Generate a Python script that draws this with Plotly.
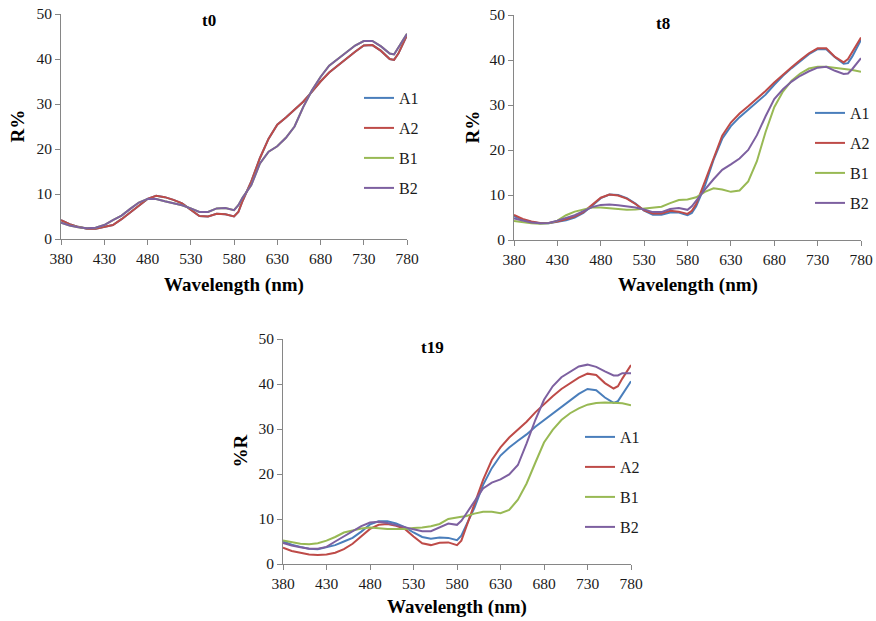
import plotly.graph_objects as go

# ---------------- data ----------------
wavelength = [380, 390, 400, 410, 420, 430, 440, 450, 460, 470, 480, 490, 500, 510, 520,
              530, 540, 550, 560, 570, 580, 585, 590, 600, 610, 620, 630, 640, 650, 660,
              670, 680, 690, 700, 710, 720, 730, 740, 750, 760, 765, 770, 780]
x_ticks = [380, 430, 480, 530, 580, 630, 680, 730, 780]
y_ticks = [0, 10, 20, 30, 40, 50]
series_names = ["A1", "A2", "B1", "B2"]

# t0 (A1 lies under A2, B1 lies under B2)
t0_A2 = [4.2, 3.3, 2.7, 2.3, 2.3, 2.7, 3.1, 4.4, 5.8, 7.4, 8.9, 9.6, 9.3, 8.7, 7.9,
         6.4, 5.1, 5.0, 5.6, 5.5, 5.0, 6.0, 8.5, 12.8, 18.0, 22.3, 25.4, 27.0, 28.8, 30.5,
         32.7, 35.0, 37.0, 38.6, 40.1, 41.6, 43.0, 43.1, 41.8, 40.0, 39.8, 41.2, 45.3]
t0_A1 = list(t0_A2)
t0_B2 = [3.6, 3.0, 2.6, 2.4, 2.5, 3.1, 4.2, 5.2, 6.7, 8.1, 8.9, 8.9, 8.4, 7.9, 7.5,
         6.8, 6.0, 6.0, 6.8, 6.9, 6.4, 7.5, 9.2, 12.0, 16.8, 19.4, 20.6, 22.5, 25.0, 29.3,
         33.0, 36.0, 38.5, 40.0, 41.4, 43.0, 44.0, 44.0, 42.8, 41.2, 41.0, 42.5, 45.6]
t0_B1 = list(t0_B2)

# t8
t8_A1 = [5.3, 4.5, 4.0, 3.7, 3.7, 4.0, 4.4, 5.0, 6.0, 7.6, 9.3, 10.1, 10.0, 9.3, 8.1,
         6.5, 5.6, 5.6, 6.1, 6.1, 5.5, 6.0, 7.5, 12.0, 17.8, 22.5, 25.3, 27.3, 29.0, 30.5,
         32.3, 34.5, 36.5, 38.2, 39.8, 41.3, 42.4, 42.4, 40.6, 39.2, 39.3, 40.8, 44.5]
t8_A2 = [5.6, 4.7, 4.1, 3.8, 3.8, 4.1, 4.6, 5.2, 6.2, 7.8, 9.4, 10.1, 9.9, 9.2, 8.0,
         6.6, 5.9, 5.9, 6.5, 6.3, 5.8, 6.5, 8.0, 13.0, 18.2, 23.2, 26.1, 28.1, 29.7, 31.3,
         33.1, 35.0, 36.8, 38.4, 40.0, 41.5, 42.6, 42.6, 40.7, 39.5, 40.2, 41.8, 45.0]
t8_B1 = [4.2, 3.9, 3.7, 3.6, 3.7, 4.3, 5.5, 6.3, 6.8, 7.2, 7.2, 7.0, 6.8, 6.7, 6.8,
         7.0, 7.1, 7.4, 8.2, 8.9, 9.0, 9.2, 9.5, 10.7, 11.5, 11.2, 10.7, 11.0, 13.0, 17.5,
         24.0, 29.5, 33.0, 35.4, 37.0, 38.1, 38.5, 38.5, 38.3, 38.0, 37.9, 37.8, 37.4]
t8_B2 = [4.8, 4.3, 3.9, 3.7, 3.8, 4.3, 4.9, 5.5, 6.4, 7.3, 7.8, 7.9, 7.7, 7.5, 7.2,
         6.8, 6.2, 6.2, 6.9, 7.1, 6.7, 7.5, 8.8, 11.2, 13.5, 15.6, 16.8, 18.1, 20.0, 23.3,
         27.5, 31.3, 33.5, 35.2, 36.5, 37.5, 38.3, 38.5, 37.6, 36.9, 37.0, 38.0, 40.4]

# t19
t19_A1 = [5.0, 4.3, 3.8, 3.4, 3.3, 3.7, 4.2, 5.0, 5.8, 7.2, 8.8, 9.5, 9.5, 9.0, 8.2,
          7.0, 6.0, 5.6, 5.9, 5.8, 5.3, 6.3, 8.5, 12.5, 17.6, 21.3, 24.1, 25.9, 27.4, 28.8,
          30.5, 32.0, 33.5, 34.9, 36.4, 37.8, 38.9, 38.6, 37.0, 35.8, 36.2, 37.6, 40.6]
t19_A2 = [3.6, 2.9, 2.5, 2.1, 2.0, 2.1, 2.5, 3.3, 4.5, 6.1, 7.8, 8.7, 8.9, 8.5, 7.8,
          6.1, 4.6, 4.2, 4.7, 4.8, 4.2, 5.2, 8.0, 13.5, 18.7, 23.1, 25.9, 28.1, 29.8, 31.6,
          33.7, 35.6, 37.3, 38.9, 40.1, 41.4, 42.3, 42.0, 40.2, 39.0, 39.5, 41.2, 44.2]
t19_B1 = [5.2, 4.8, 4.5, 4.4, 4.6, 5.2, 6.0, 7.0, 7.5, 7.9, 8.1, 7.9, 7.8, 7.8, 7.8,
          8.0, 8.1, 8.4, 8.9, 10.0, 10.4, 10.5, 10.6, 11.2, 11.6, 11.6, 11.3, 12.0, 14.3, 17.9,
          22.5, 27.0, 29.8, 32.0, 33.5, 34.6, 35.4, 35.8, 35.9, 35.9, 35.8, 35.7, 35.3]
t19_B2 = [4.7, 4.1, 3.7, 3.4, 3.4, 3.8, 5.0, 6.1, 7.2, 8.4, 9.2, 9.4, 9.1, 8.7, 8.2,
          7.7, 7.3, 7.3, 8.2, 9.0, 8.7, 9.6, 11.0, 14.0, 16.8, 18.1, 18.8, 19.9, 22.0, 26.8,
          32.0, 36.5, 39.5, 41.5, 42.8, 43.9, 44.3, 43.8, 42.8, 41.9, 41.9, 42.4, 42.4]

panels = [
    ("t0", "R%", [t0_A1, t0_A2, t0_B1, t0_B2]),
    ("t8", "R%", [t8_A1, t8_A2, t8_B1, t8_B2]),
    ("t19", "%R", [t19_A1, t19_A2, t19_B1, t19_B2]),
]

# ---------------- style ----------------
colors = ["#4A7EBB", "#BE4B48", "#98B954", "#7D60A0"]
FONT = "Liberation Serif, Times New Roman, serif"
W, H = 876, 621
AXIS_GREY = "#868686"

# plot areas in pixels: (left, right, top, bottom)
areas = [(61, 407, 14, 239), (514, 861, 15, 240), (283, 631, 339, 564)]
legend_pos = [(359, 81), (810, 96), (580, 420)]
xtitle_shift = [-46, -45, -43]
ytitle_shift = [-44, -42, -43]
title_pos = [(0.428, 0.969), (0.43, 0.964), (0.431, 0.964)]

fig = go.Figure()
legend_ids = ["legend", "legend2", "legend3"]
annotations = []
layout = dict(
    width=W, height=H,
    margin=dict(l=0, r=0, t=0, b=0, autoexpand=False),
    paper_bgcolor="white", plot_bgcolor="white",
    font=dict(family=FONT, color="#1a1a1a"),
    showlegend=True,
)

for i, (ptitle, ytitle, data) in enumerate(panels):
    suffix = "" if i == 0 else str(i + 1)
    xa, ya = "x" + suffix, "y" + suffix
    for name, vals, col in zip(series_names, data, colors):
        fig.add_trace(go.Scatter(
            x=wavelength, y=vals, name=name, mode="lines",
            line=dict(color=col, width=2),
            xaxis=xa, yaxis=ya,
            legend=legend_ids[i], legendgroup=f"{ptitle}_{name}",
        ))
    l, r, t, b = areas[i]
    layout["xaxis" + suffix] = dict(
        domain=[l / W, r / W], anchor=ya, range=[380, 780],
        tickmode="array", tickvals=x_ticks,
        showline=True, linecolor=AXIS_GREY, linewidth=1,
        ticks="outside", ticklen=5, tickcolor=AXIS_GREY,
        showgrid=False, zeroline=False,
        tickfont=dict(family=FONT, size=15.5, color="#1a1a1a"),
    )
    layout["yaxis" + suffix] = dict(
        domain=[1 - b / H, 1 - t / H], anchor=xa, range=[0, 50],
        tickmode="array", tickvals=y_ticks,
        showline=True, linecolor=AXIS_GREY, linewidth=1,
        ticks="outside", ticklen=5, tickcolor=AXIS_GREY,
        showgrid=False, zeroline=False,
        tickfont=dict(family=FONT, size=15.5, color="#1a1a1a"),
    )
    lx, ly = legend_pos[i]
    layout[legend_ids[i]] = dict(
        x=lx / W, y=1 - ly / H, xanchor="left", yanchor="top",
        xref="paper", yref="paper",
        bgcolor="rgba(0,0,0,0)", borderwidth=0,
        font=dict(family=FONT, size=16, color="#1a1a1a"),
        tracegroupgap=6.2, traceorder="grouped",
    )
    # panel title
    annotations.append(dict(
        text=ptitle, xref=xa + " domain", yref=ya + " domain",
        x=title_pos[i][0], y=title_pos[i][1], xanchor="center", yanchor="middle",
        showarrow=False, font=dict(family=FONT, size=17, weight="bold", color="#000"),
    ))
    # x title
    annotations.append(dict(
        text="Wavelength (nm)", xref=xa + " domain", yref=ya + " domain",
        x=0.5, y=0, yshift=xtitle_shift[i], xanchor="center", yanchor="middle",
        showarrow=False, font=dict(family=FONT, size=19, weight="bold", color="#000"),
    ))
    # y title
    annotations.append(dict(
        text=ytitle, xref=xa + " domain", yref=ya + " domain",
        x=0, y=0.5, xshift=ytitle_shift[i], xanchor="center", yanchor="middle",
        textangle=-90,
        showarrow=False, font=dict(family=FONT, size=19, weight="bold", color="#000"),
    ))

layout["annotations"] = annotations
fig.update_layout(**layout)
# remove the default page margin so the 876x621 figure fills the window exactly
fig.write_html("out.html", config={"displayModeBar": False},
               post_script="document.body.style.margin='0';")
